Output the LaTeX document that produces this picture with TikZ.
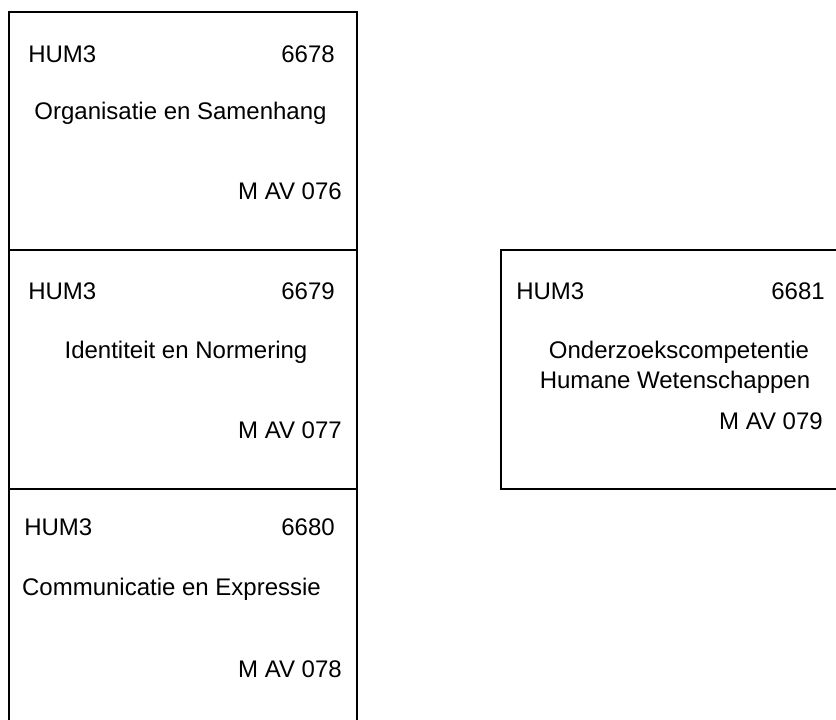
\documentclass[tikz,border=0pt]{standalone}
\usepackage{fontspec}
\setmainfont{Liberation Sans}
\usetikzlibrary{positioning}

\begin{document}
\begin{tikzpicture}[x=0.75pt,y=-0.75pt,
    vak/.style={draw, line width=1.5pt},
    tekst/.style={inner sep=0pt, font=\fontsize{18}{21.75}\selectfont}]
  \useasboundingbox (0,0) rectangle (836,720);
  \clip (0,0) rectangle (836,720);
  \coordinate (links) at (9,12);
  \coordinate (rechts) at (501,250);
  % vakken
  \draw[vak] (links) rectangle (357,250);
  \draw[vak] (9,250) rectangle (357,489);
  \draw[vak] (9,489) rectangle (357,740);
  \draw[vak] (rechts) rectangle (846,489);

  \node[tekst, anchor=base west] (code1) at (28,63) {HUM3};
  \node[tekst, anchor=base east] (nr1) at (335,63) {6678};
  \node[tekst, anchor=base] (naam1) at (180.5,120) {Organisatie en Samenhang};
  \node[tekst, anchor=base east] (mav1) at (342,200) {M AV 076};

  \node[tekst, anchor=base west] (code2) at (28,300) {HUM3};
  \node[tekst, anchor=base east] (nr2) at (335,300) {6679};
  \node[tekst, anchor=base] (naam2) at (186,359) {Identiteit en Normering};
  \node[tekst, anchor=base east] (mav2) at (342,439) {M AV 077};

  \node[tekst, anchor=base west] (code3) at (24,535) {HUM3};
  \node[tekst, anchor=base east] (nr3) at (335,535) {6680};
  \node[tekst, anchor=base] (naam3) at (171.5,595) {Communicatie en Expressie};
  \node[tekst, anchor=base east] (mav3) at (342,677) {M AV 078};

  \node[tekst, anchor=base west] (code4) at (516,300) {HUM3};
  \node[tekst, anchor=base east] (nr4) at (825,300) {6681};
  \node[tekst, anchor=base] (naam4) at (679,359) {Onderzoekscompetentie};
  \node[tekst, anchor=base] (naam4b) at (675,388) {Humane Wetenschappen};
  \node[tekst, anchor=base east] (mav4) at (823,430) {M AV 079};
\end{tikzpicture}
\end{document}
